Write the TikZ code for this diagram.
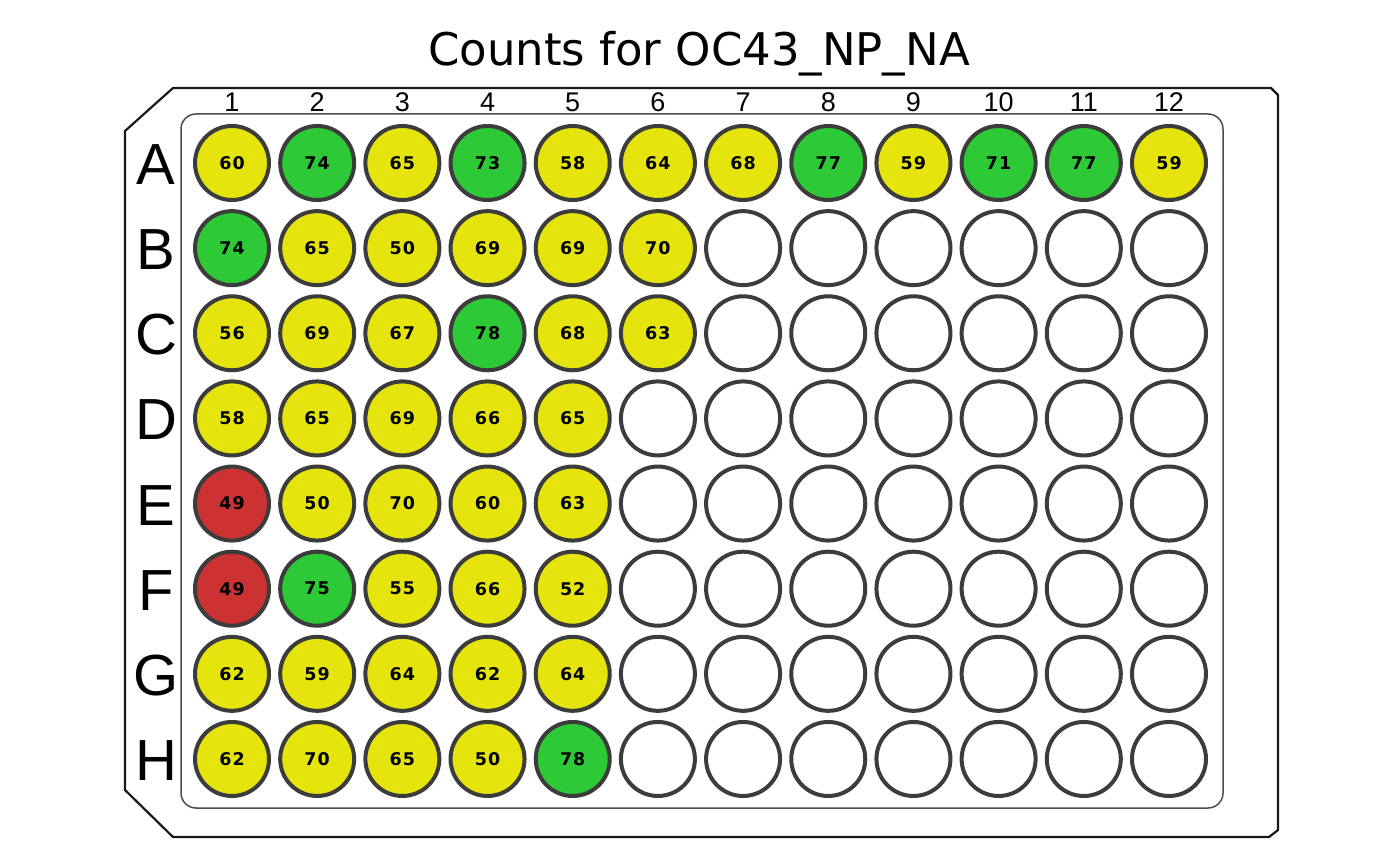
\documentclass[tikz,border=0pt]{standalone}
\usepackage{fontspec}
\setmainfont{DejaVu Sans}
\newfontfamily\labfont{Liberation Sans}
\newfontfamily\wellfont[LetterSpace=6]{DejaVu Sans}
\definecolor{wyellow}{RGB}{229,229,13}
\definecolor{wgreen}{RGB}{46,201,55}
\definecolor{wred}{RGB}{204,50,50}
\definecolor{wring}{RGB}{60,60,60}
\begin{document}
\begin{tikzpicture}[x=1pt,y=-1pt,
  well/.style={circle,draw=wring,line width=4pt,minimum size=74pt,inner sep=0pt,fill=white,
    font=\wellfont\fontsize{17.5}{17.5}\selectfont\bfseries},
  collab/.style={anchor=base,font=\labfont\fontsize{27}{27}\selectfont},
  rowlab/.style={anchor=base,font=\labfont\fontsize{58}{58}\selectfont},
  plate/.style={draw=black!90,line width=2.2pt,line join=round},
  inner/.style={draw=black!70,line width=1.5pt,rounded corners=15pt}]
\useasboundingbox (0,0) rectangle (1400,866);
\fill[white] (0,0) rectangle (1400,866);
% plate outline
\draw[plate] (173,88) -- (1271,88) -- (1278,95) -- (1278,830) -- (1269,837)
  -- (173,837) -- (125,790) -- (125,131) -- cycle;
\draw[inner] (181,114) rectangle (1223,808);
% title
\node[anchor=base,font=\fontsize{45}{45}\selectfont] (title) at (699,66) {Counts for OC43\_NP\_NA};
% column labels
\foreach \c in {1,...,12} {
  \node[collab] (c-\c) at ({232+(\c-1)*85.18},112) {\c};
}
% wells
\foreach \rn/\vals/\first [count=\ri from 0] in {
  A/{60,74,65,73,58,64,68,77,59,71,77,59}/13,
  B/{74,65,50,69,69,70}/7,
  C/{56,69,67,78,68,63}/7,
  D/{58,65,69,66,65}/6,
  E/{49,50,70,60,63}/6,
  F/{49,75,55,66,52}/6,
  G/{62,59,64,62,64}/6,
  H/{62,70,65,50,78}/6} {
  \node[rowlab] (r-\rn) at (156,{163+\ri*85.14+21.5}) {\rn};
  \foreach \v [count=\c] in \vals {
    \ifnum\v>70 \def\wcol{wgreen}\else\ifnum\v<50 \def\wcol{wred}\else\def\wcol{wyellow}\fi\fi
    \node[well,fill=\wcol] (w-\rn-\c) at ({232+(\c-1)*85.18},{163+\ri*85.14}) {\v};
  }
  \ifnum\first<13
    \foreach \c in {\first,...,12} {
      \node[well] (w-\rn-\c) at ({232+(\c-1)*85.18},{163+\ri*85.14}) {};
    }
  \fi
}
\end{tikzpicture}
\end{document}
